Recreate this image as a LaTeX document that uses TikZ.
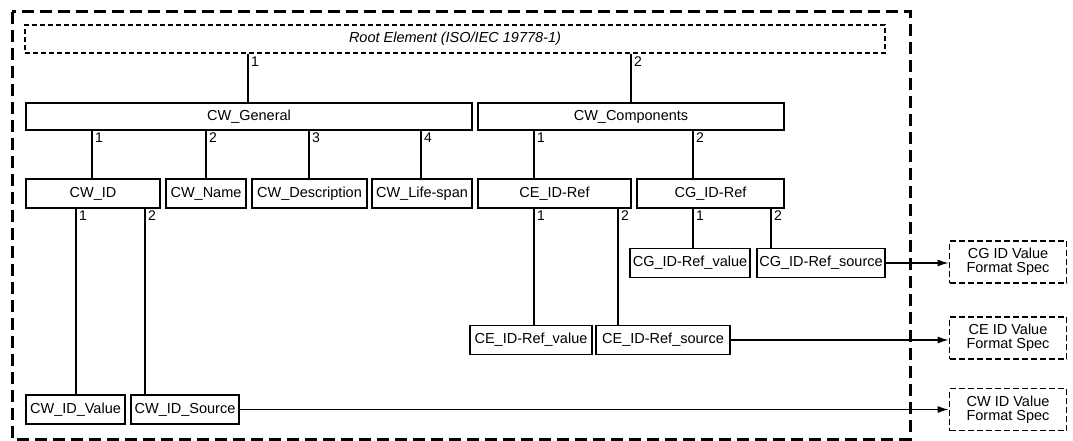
\documentclass[tikz,border=0pt]{standalone}
\usepackage{fontspec}
\setmainfont{Liberation Sans}
\usetikzlibrary{arrows.meta,calc}
\begin{document}
\begin{tikzpicture}[x=1pt,y=-1pt,
  box/.style={draw, line width=1.3pt, inner sep=0pt, minimum height=29pt, font=\fontsize{14.5}{16}\selectfont},
  rootbox/.style={draw, line width=1.3pt, dash pattern=on 5pt off 3pt, inner sep=0pt, font=\fontsize{14.5}{16}\selectfont\itshape},
  specbox/.style={draw, line width=1.8pt, dash pattern=on 6pt off 3pt, inner sep=0pt, minimum width=117pt, minimum height=42pt, align=center, font=\fontsize{14.5}{14}\selectfont},
  num/.style={anchor=north west, inner sep=0pt, font=\fontsize{14}{15}\selectfont},
  conn/.style={line width=1.3pt},
  arr/.style={line width=1.3pt, -{Latex[length=11pt,width=7pt]}},
  outer/.style={line width=3pt, dash pattern=on 12pt off 6pt}
]
\useasboundingbox (0,0) rectangle (1073,441);
% outer dashed frame
\draw[outer] (12,12) rectangle (910,439);

% nodes
\node[rootbox, minimum width=860pt, minimum height=28pt] (root) at (455,39) {Root Element (ISO/IEC 19778-1)};
\node[box, minimum width=446pt, minimum height=27pt] (gen) at (249,116.5) {CW\_General};
\node[box, minimum width=306pt, minimum height=27pt] (comp) at (631,116.5) {CW\_Components};

\node[box, minimum width=134pt] (cwid) at (93,193.5) {CW\_ID};
\node[box, minimum width=80pt] (cwname) at (206,193.5) {CW\_Name};
\node[box, minimum width=115pt] (cwdesc) at (309.5,193.5) {CW\_Description};
\node[box, minimum width=100pt] (cwlife) at (422,193.5) {CW\_Life-span};
\node[box, minimum width=153pt] (ceref) at (554.5,193.5) {CE\_ID-Ref};
\node[box, minimum width=147pt] (cgref) at (710.5,193.5) {CG\_ID-Ref};

\node[box, minimum width=120pt] (cgval) at (690,263) {CG\_ID-Ref\_value};
\node[box, minimum width=128pt] (cgsrc) at (821,263) {CG\_ID-Ref\_source};

\node[box, minimum width=122pt] (ceval) at (531,340) {CE\_ID-Ref\_value};
\node[box, minimum width=134pt] (cesrc) at (663,340) {CE\_ID-Ref\_source};

\node[box, minimum width=99pt] (cwval) at (75.5,409.5) {CW\_ID\_Value};
\node[box, minimum width=108pt] (cwsrc) at (185,409.5) {CW\_ID\_Source};

\node[specbox] (cgspec) at (1008,262) {CG ID Value\\Format Spec};
\node[specbox] (cespec) at (1008,338) {CE ID Value\\Format Spec};
\node[specbox] (cwspec) at (1008,409.5) {CW ID Value\\Format Spec};

% tree connectors with labels
\draw[conn] (root.south -| 248,0) -- (gen.north -| 248,0);
\node[num] (l1) at (251,57) {1};
\draw[conn] (root.south -| 631,0) -- (comp.north -| 631,0);
\node[num] (l2) at (634,57) {2};

\draw[conn] (gen.south -| 92,0) -- (cwid.north -| 92,0);
\node[num] (g1) at (95,133) {1};
\draw[conn] (gen.south -| 206,0) -- (cwname.north -| 206,0);
\node[num] (g2) at (209,133) {2};
\draw[conn] (gen.south -| 309,0) -- (cwdesc.north -| 309,0);
\node[num] (g3) at (312,133) {3};
\draw[conn] (gen.south -| 421,0) -- (cwlife.north -| 421,0);
\node[num] (g4) at (424,133) {4};

\draw[conn] (comp.south -| 534,0) -- (ceref.north -| 534,0);
\node[num] (c1) at (537,133) {1};
\draw[conn] (comp.south -| 693,0) -- (cgref.north -| 693,0);
\node[num] (c2) at (696,133) {2};

\draw[conn] (cwid.south -| 76,0) -- (cwval.north -| 76,0);
\node[num] (w1) at (79,211) {1};
\draw[conn] (cwid.south -| 145,0) -- (cwsrc.north -| 145,0);
\node[num] (w2) at (148,211) {2};

\draw[conn] (ceref.south -| 534,0) -- (ceval.north -| 534,0);
\node[num] (e1) at (537,211) {1};
\draw[conn] (ceref.south -| 618,0) -- (cesrc.north -| 618,0);
\node[num] (e2) at (621,211) {2};

\draw[conn] (cgref.south -| 693,0) -- (cgval.north -| 693,0);
\node[num] (r1) at (696,211) {1};
\draw[conn] (cgref.south -| 771,0) -- (cgsrc.north -| 771,0);
\node[num] (r2) at (774,211) {2};

% arrows to format specs
\draw[arr] (cgsrc.east) -- (cgsrc.east -| cgspec.west);
\draw[arr] (cesrc.east) -- (cesrc.east -| cespec.west);
\draw[arr] (cwsrc.east) -- (cwsrc.east -| cwspec.west);
\end{tikzpicture}
\end{document}
